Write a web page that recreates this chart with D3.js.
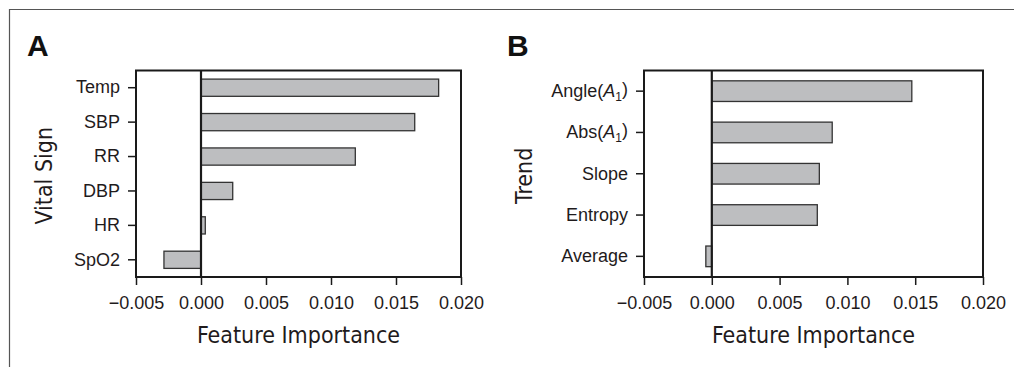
<!DOCTYPE html>
<html><head><meta charset="utf-8">
<script src="https://cdn.jsdelivr.net/npm/d3@7"></script>
<style>
html,body{margin:0;padding:0;background:#fff;}
svg{display:block;}
</style></head>
<body>
<svg id="c" width="1014" height="367"></svg>
<script>
const vitalCategories = ["Temp","SBP","RR","DBP","HR","SpO2"];
const vitalValues = [0.01828, 0.01644, 0.01187, 0.00244, 0.00033, -0.00285];
const trendCategories = ["Angle(A1)","Abs(A1)","Slope","Entropy","Average"];
const trendValues = [0.01475, 0.00888, 0.00793, 0.00778, -0.00044];
const xTicks = [-0.005, 0.000, 0.005, 0.010, 0.015, 0.020];
const xTickLabels = ["\u22120.005","0.000","0.005","0.010","0.015","0.020"];
const panelLetters = ["A","B"];
const yTitles = ["Vital Sign","Trend"];
const xTitle = "Feature Importance";

const svg = d3.select("#c");
const textCol = "#1f1b1c";

// outer border
svg.append("path").attr("d","M9.5,367 V9.5 H1014")
  .attr("fill","none").attr("stroke","#555").attr("stroke-width",1.2);

function panel(cfg){
  const g = svg.append("g");
  const x = d3.scaleLinear().domain([-0.005,0.020]).range([cfg.x0,cfg.x1]);
  const y = d3.scaleBand().domain(cfg.cats).range([cfg.y0,cfg.y1]).paddingInner(0.5).paddingOuter(0.25);

  // bars
  g.selectAll("rect.bar").data(cfg.vals).enter().append("rect")
    .attr("x",d=>Math.min(x(0),x(d)))
    .attr("width",d=>Math.abs(x(d)-x(0)))
    .attr("y",(d,i)=>y(cfg.cats[i]))
    .attr("height",y.bandwidth())
    .attr("fill","#bdbec0").attr("stroke","#333").attr("stroke-width",1.3);

  // box
  g.append("rect").attr("x",cfg.x0).attr("y",cfg.y0)
    .attr("width",cfg.x1-cfg.x0).attr("height",cfg.y1-cfg.y0)
    .attr("fill","none").attr("stroke","#1a1a1a").attr("stroke-width",2);
  // zero line
  g.append("line").attr("x1",x(0)).attr("x2",x(0)).attr("y1",cfg.y0).attr("y2",cfg.y1)
    .attr("stroke","#1a1a1a").attr("stroke-width",2.2);

  // x axis
  const xa = g.append("g").attr("transform",`translate(0,${cfg.y1})`)
    .call(d3.axisBottom(x).tickValues(xTicks).tickSizeInner(8).tickSizeOuter(0).tickPadding(11)
      .tickFormat((d,i)=>xTickLabels[i]));
  xa.select(".domain").remove();
  xa.selectAll("line").attr("stroke","#1a1a1a").attr("stroke-width",1.5);
  xa.selectAll("text").attr("font-family","Liberation Sans, Arial, sans-serif")
    .attr("font-size",18).attr("fill",textCol).attr("dy","0.71em");

  // y axis
  const ya = g.append("g").attr("transform",`translate(${cfg.x0},0)`)
    .call(d3.axisLeft(y).tickSizeInner(8).tickSizeOuter(0).tickPadding(8));
  ya.select(".domain").remove();
  ya.selectAll("line").attr("stroke","#1a1a1a").attr("stroke-width",1.5);
  ya.selectAll("text").attr("font-family","Liberation Sans, Arial, sans-serif")
    .attr("font-size",18).attr("fill",textCol)
    .each(function(d){
      const m = /^(.*)\((A)1\)$/.exec(d);
      if(m){
        const t = d3.select(this).text(null);
        t.append("tspan").text(m[1]+"(");
        t.append("tspan").attr("font-style","italic").text(m[2]);
        t.append("tspan").attr("font-size",12).attr("dy","0.3em").text("1");
        t.append("tspan").attr("dy","-0.3em").text(")");
      }
    });

  // axis titles
  g.append("text").attr("x",(cfg.x0+cfg.x1)/2).attr("y",343)
    .attr("text-anchor","middle")
    .attr("font-family","DejaVu Sans Condensed, DejaVu Sans, sans-serif")
    .attr("font-stretch","condensed")
    .attr("font-size",23).attr("fill",textCol).text(xTitle);
  g.append("text")
    .attr("transform",`translate(${cfg.ytx},${(cfg.y0+cfg.y1)/2+2}) rotate(-90)`)
    .attr("text-anchor","middle")
    .attr("font-family","DejaVu Sans Condensed, DejaVu Sans, sans-serif")
    .attr("font-stretch","condensed")
    .attr("font-size",23).attr("fill",textCol).text(cfg.ytitle);

  // panel letter
  g.append("text").attr("x",cfg.lx).attr("y",56)
    .attr("font-family","Liberation Sans, Arial, sans-serif").attr("font-weight","bold")
    .attr("font-size",30).attr("fill","#111").text(cfg.letter);
}

panel({cats:vitalCategories, vals:vitalValues, x0:136, x1:461, y0:70.5, y1:277,
       ytitle:yTitles[0], ytx:51.5, letter:panelLetters[0], lx:27});
panel({cats:trendCategories, vals:trendValues, x0:644, x1:983, y0:70.5, y1:277,
       ytitle:yTitles[1], ytx:531.5, letter:panelLetters[1], lx:507});
</script>
</body></html>
